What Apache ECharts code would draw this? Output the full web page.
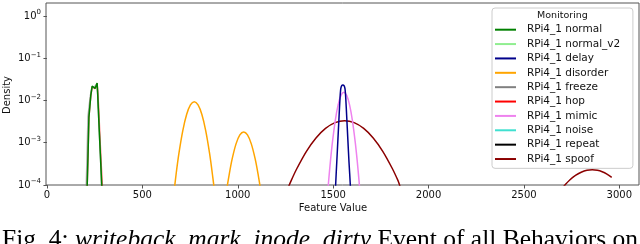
<!DOCTYPE html>
<html><head><meta charset="utf-8">
<script src="https://cdn.jsdelivr.net/npm/echarts@6/dist/echarts.min.js"></script>
<style>html,body{margin:0;padding:0;background:#fff}#c{width:640px;height:244px}</style>
</head><body><div id="c"></div>
<script>
// ---- data (x = feature value, y = density) ----
const seriesNames = ['RPi4_1 normal','RPi4_1 normal_v2','RPi4_1 delay','RPi4_1 disorder','RPi4_1 freeze','RPi4_1 hop','RPi4_1 mimic','RPi4_1 noise','RPi4_1 repeat','RPi4_1 spoof'];
const seriesColors = ['#008000','#90ee90','#00008b','#ffa500','#808080','#ff0000','#ee82ee','#40e0d0','#000000','#8b0000'];

const normal = [[200,1e-5],[211,1e-4],[215,4.6e-4],[220,0.0041],[225,0.0074],[230,0.0134],[237,0.022],[243,0.0205],[247,0.021],[252,0.0193],[257,0.022],[263,0.026],[266,0.014],[269,0.0066],[275,0.0016],[281,4.1e-4],[287,1e-4],[292,2e-5]];
const normalV2 = [];
const delay = [[1507,2e-5],[1513,1e-4],[1519,3.5e-4],[1525,1.2e-3],[1531,4.2e-3],[1536,0.0115],[1540,0.019],[1545,0.0225],[1551,0.0233],[1557,0.0225],[1562,0.019],[1566,0.0115],[1571,4.2e-3],[1577,1.2e-3],[1583,3.5e-4],[1590,1e-4],[1596,2e-5]];
const disorder = [[662,4.8e-5],[677,1.82e-4],[692,5.73e-4],[712,0.00194],[732,0.00465],[752,0.00784],[772,0.00933],[792,0.00784],[812,0.00465],[832,0.00194],[852,5.73e-4],[867,1.82e-4],[882,4.8e-5],[910,1e-6],[941,6.8e-5],[956,1.85e-4],[971,4.19e-4],[991,9.4e-4],[1011,0.00153],[1031,0.0018],[1051,0.00153],[1071,9.4e-4],[1091,4.19e-4],[1106,1.85e-4],[1121,6.8e-5],[1135,1e-5]];
const freeze = [[196,1e-5],[206,1e-4],[210,4.6e-4],[215,0.0041],[221,0.0074],[228,0.0134],[236,0.021],[247,0.0205],[252,0.019],[257,0.021],[263,0.025],[266,0.0135],[269,0.0064],[275,0.0015],[281,4e-4],[286,1e-4],[291,2e-5]];
const hop = [[200,1e-5],[211,1e-4],[215,4.6e-4],[220,0.004],[225,0.0072],[230,0.013],[237,0.021],[247,0.0205],[252,0.019],[257,0.021],[263,0.025],[267,0.014],[271,0.0066],[277,0.0016],[283,4.1e-4],[290,1e-4],[295,2e-5]];
const mimic = [[1466,3.3e-5],[1476,1.2e-4],[1486,3.77e-4],[1496,0.00101],[1511,0.00335],[1526,0.00788],[1541,0.0132],[1556,0.0156],[1571,0.0132],[1586,0.00788],[1601,0.00335],[1616,0.00101],[1626,3.77e-4],[1636,1.2e-4],[1646,3.3e-5]];
const noise = [];
const repeat = [];
const spoof = [[1250,6.1e-5],[1280,1.27e-4],[1310,2.46e-4],[1360,6.28e-4],[1410,0.0013],[1460,0.00219],[1510,0.0030],[1560,0.00333],[1610,0.0030],[1660,0.00219],[1710,0.0013],[1760,6.28e-4],[1810,2.46e-4],[1840,1.27e-4],[1870,6.1e-5],[2300,1e-6],[2700,8.3e-5],[2715,1e-4],[2740,1.31e-4],[2770,1.68e-4],[2800,2.0e-4],[2830,2.23e-4],[2858,2.3e-4],[2885,2.23e-4],[2910,2.06e-4],[2935,1.81e-4],[2960,1.51e-4]];

const xTicks = [0,500,1000,1500,2000,2500,3000];
const yTicks = [1e-4,1e-3,1e-2,1e-1,1];
const legendTitle = 'Monitoring';
const xName = 'Feature Value';
const yName = 'Density';
const captionParts = ['Fig. 4: ','writeback_mark_inode_dirty',' Event of all Behaviors on'];

const seriesData = [normal, normalV2, delay, disorder, freeze, hop, mimic, noise, repeat, spoof];
const smoothFlags = [false,false,0.25,0.3,false,false,0.3,false,false,0.3];

const chart = echarts.init(document.getElementById('c'), null, {renderer:'canvas'});
const FONT = 'DejaVu Sans';
function supLabel(v){
  const e = Math.round(Math.log10(v));
  return '{b|10}{s|' + (e < 0 ? '\u2212' + (-e) : String(e)) + '}';
}
chart.setOption({
  animation:false,
  backgroundColor:'#ffffff',
  grid:{left:46,right:1,top:3,bottom:59,show:true,borderColor:'#555',borderWidth:1,backgroundColor:'transparent'},
  xAxis:{
    type:'value', min:-5, max:3103,
    axisLine:{show:false},
    splitLine:{show:false},
    axisTick:{show:true,length:3.5,lineStyle:{color:'#555',width:1},customValues:xTicks},
    axisLabel:{margin:5,fontFamily:FONT,fontSize:10,color:'#111',customValues:xTicks,formatter:v=>String(Math.round(v))}
  },
  yAxis:{
    type:'log', logBase:10, min:1e-4, max:2.03,
    axisLine:{show:false},
    splitLine:{show:false},
    minorTick:{show:false},
    axisTick:{show:true,length:3.5,lineStyle:{color:'#555',width:1},customValues:yTicks},
    axisLabel:{margin:5,color:'#111',customValues:yTicks,formatter:supLabel,
      rich:{b:{fontFamily:FONT,fontSize:10,color:'#111'},
            s:{fontFamily:FONT,fontSize:7,color:'#111',padding:[0,0,7,0]}}}
  },
  legend:{
    orient:'vertical', left:492, top:8,
    padding:[15.7,12.7,3.3,3],
    itemGap:2.37, itemWidth:21, itemHeight:2, icon:'rect',
    selectedMode:false,
    backgroundColor:'rgba(255,255,255,0.8)', borderColor:'#cccccc', borderWidth:1, borderRadius:3,
    textStyle:{fontFamily:FONT,fontSize:10.5,color:'#111',lineHeight:12,padding:[0,0,0,6]},
    data:seriesNames
  },
  graphic:[
    {type:'text', z:100, x:562.5, y:16, style:{text:legendTitle, font:'9.5px "DejaVu Sans"', fill:'#111', textAlign:'center', align:'center', textVerticalAlign:'middle', verticalAlign:'middle'}},
    {type:'text', z:100, x:333, y:208, style:{text:xName, font:'10px "DejaVu Sans"', fill:'#111', textAlign:'center', align:'center', textVerticalAlign:'middle', verticalAlign:'middle'}},
    {type:'text', z:100, x:7, y:95, rotation:Math.PI/2, style:{text:yName, font:'10px "DejaVu Sans"', fill:'#111', textAlign:'center', align:'center', textVerticalAlign:'middle', verticalAlign:'middle'}},
    {type:'text', z:100, x:2, y:240, style:{
      text:'{n|'+captionParts[0]+'}{i|'+captionParts[1]+'}{n|'+captionParts[2]+'}',
      rich:{n:{fontFamily:'Liberation Serif',fontSize:25.5,fill:'#000',color:'#000'},
            i:{fontFamily:'Liberation Serif',fontSize:25.5,fontStyle:'italic',fill:'#000',color:'#000'}},
      textAlign:'left', align:'left', textVerticalAlign:'middle', verticalAlign:'middle'}}
  ],
  series: seriesNames.map((name,i)=>({
    name:name, type:'line', data:seriesData[i],
    symbol:'none', showSymbol:false, clip:true,
    smooth:smoothFlags[i],
    z: 20 - i,
    color: seriesColors[i],
    lineStyle:{color:seriesColors[i], width:1.5, opacity:(i===4||i===5)?0.6:1},
    emphasis:{disabled:true}
  }))
});
</script></body></html>
